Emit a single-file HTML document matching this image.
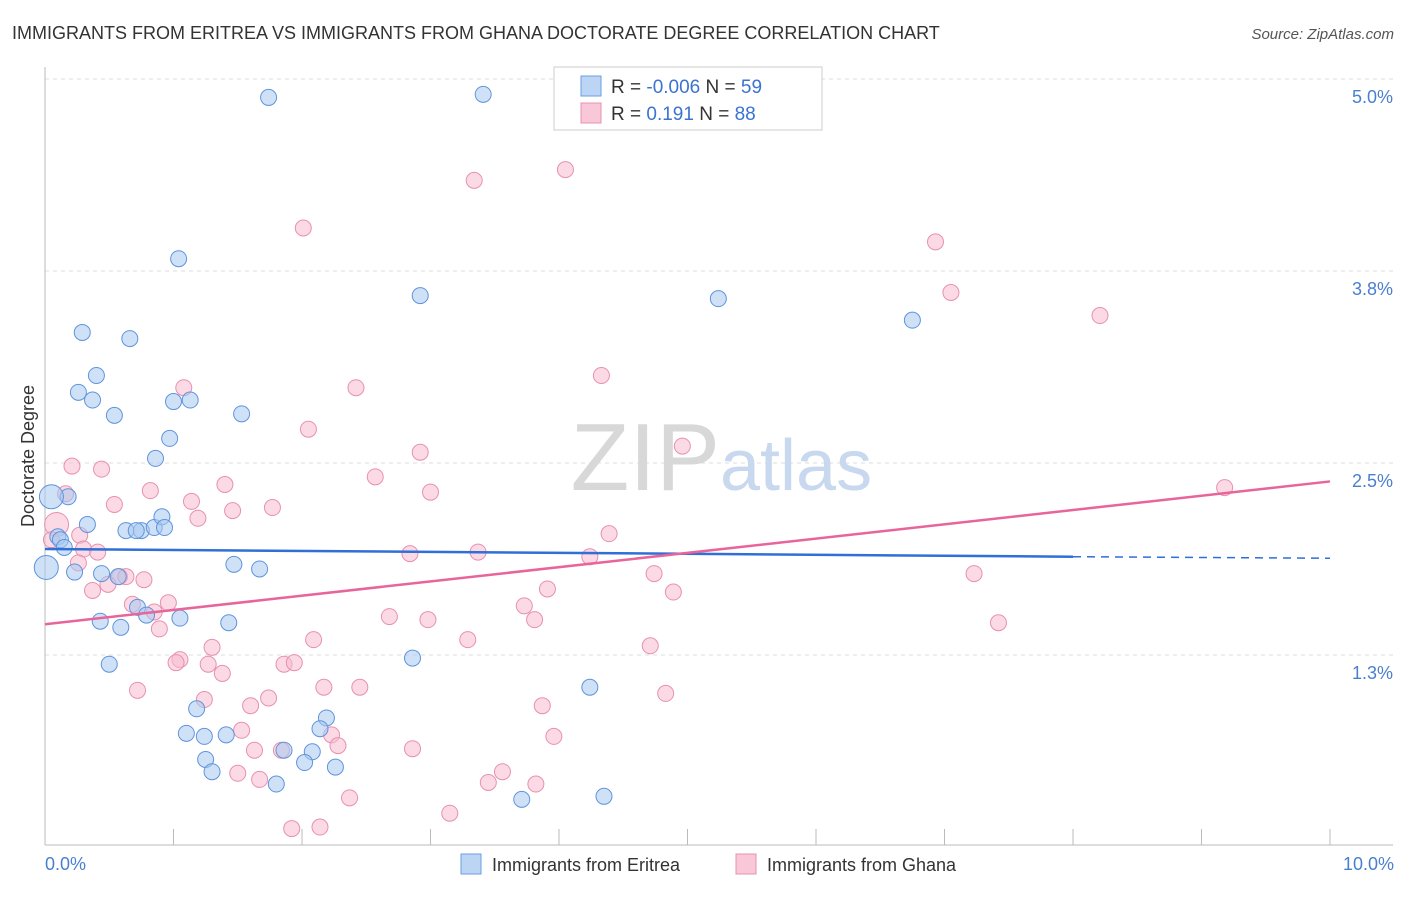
<!DOCTYPE html>
<html><head><meta charset="utf-8"><style>
body{margin:0;background:#fff;font-family:"Liberation Sans",sans-serif;}
svg text{font-family:"Liberation Sans",sans-serif;}
</style></head><body>
<svg id="chart" width="1406" height="892" xmlns="http://www.w3.org/2000/svg">
<text x="12" y="39" font-size="18" fill="#333">IMMIGRANTS FROM ERITREA VS IMMIGRANTS FROM GHANA DOCTORATE DEGREE CORRELATION CHART</text>
<text x="1394" y="39" font-size="15" fill="#555" text-anchor="end" font-style="italic">Source: ZipAtlas.com</text>
<g id="grid"></g>
<text x="720" y="490" font-size="96" fill="#d8d8d8" text-anchor="end" font-family="Liberation Serif">ZIP</text>
<text x="720" y="490" font-size="72" fill="#c8d8ee">atlas</text>
<g id="pts"></g>
<g id="lines"></g>
<text transform="translate(34,456) rotate(-90)" font-size="18" fill="#333" text-anchor="middle">Doctorate Degree</text>
<text x="45" y="870" font-size="18" fill="#4a7fd0">0.0%</text>
<text x="1394" y="870" font-size="18" fill="#4a7fd0" text-anchor="end">10.0%</text>
<g>
<rect x="554" y="67" width="268" height="63" fill="#fff" stroke="#ccc"/>
<rect x="581" y="76" width="20" height="20" fill="#bcd5f5" stroke="#6a9ee0"/>
<rect x="581" y="103" width="20" height="20" fill="#f9c8d8" stroke="#e890b0"/>
<text x="611" y="93" font-size="19" fill="#333">R = <tspan fill="#3b73d0">-0.006</tspan>   N = <tspan fill="#3b73d0">59</tspan></text>
<text x="611" y="120" font-size="19" fill="#333">R =    <tspan fill="#3b73d0">0.191</tspan>   N = <tspan fill="#3b73d0">88</tspan></text>
</g>
<g>
<rect x="461" y="854" width="20" height="20" fill="#bcd5f5" stroke="#6a9ee0"/>
<text x="492" y="871" font-size="18" fill="#333">Immigrants from Eritrea</text>
<rect x="736" y="854" width="20" height="20" fill="#f9c8d8" stroke="#e890b0"/>
<text x="767" y="871" font-size="18" fill="#333">Immigrants from Ghana</text>
</g>
</svg>
<script>
const yTicks=[1.25,2.5,3.75,5.0];
const yTickLabels=["1.3%","2.5%","3.8%","5.0%"];
const xTicks=[1,2,3,4,5,6,7,8,9,10];
const eritreaX=[1.74,3.41,1.04,2.92,5.24,6.75,0.29,0.66,0.40,0.26,0.37,1.00,1.13,0.54,1.53,0.97,0.86,0.18,0.05,0.33,0.63,0.75,0.71,0.85,0.91,0.93,0.10,0.12,0.15,0.01,0.23,0.44,0.57,1.47,1.67,0.72,0.79,1.05,0.43,0.59,1.43,0.50,2.86,4.24,1.18,2.19,2.14,1.10,1.24,1.41,1.86,2.08,1.25,2.02,2.26,1.30,1.80,3.71,4.35];
const eritreaY=[4.88,4.90,3.83,3.59,3.57,3.43,3.35,3.31,3.07,2.96,2.91,2.90,2.91,2.81,2.82,2.66,2.53,2.28,2.28,2.10,2.06,2.06,2.06,2.08,2.15,2.08,2.02,2.00,1.95,1.82,1.79,1.78,1.76,1.84,1.81,1.56,1.51,1.49,1.47,1.43,1.46,1.19,1.23,1.04,0.90,0.84,0.77,0.74,0.72,0.73,0.63,0.62,0.57,0.55,0.52,0.49,0.41,0.31,0.33];
const ghanaX=[4.05,3.34,2.01,6.93,7.05,8.21,4.33,1.08,2.42,2.05,4.96,2.92,0.21,0.44,2.57,1.40,0.16,0.82,3.00,1.14,0.54,1.46,1.77,1.19,0.09,4.39,0.27,0.05,0.30,0.41,2.84,3.37,4.24,0.26,9.18,7.23,4.74,0.58,0.63,0.77,0.49,0.37,3.91,4.89,0.68,0.96,0.85,3.73,2.68,2.98,3.81,7.42,0.89,2.09,3.29,4.71,1.30,1.05,1.02,1.27,1.86,1.94,1.38,0.72,2.17,2.45,4.83,1.24,1.74,1.60,3.87,1.53,2.23,3.96,2.28,1.63,1.84,2.86,3.56,1.50,3.45,1.67,3.82,2.37,3.15,1.92,2.14];
const ghanaY=[4.41,4.34,4.03,3.94,3.61,3.46,3.07,2.99,2.99,2.72,2.61,2.57,2.48,2.46,2.41,2.36,2.30,2.32,2.31,2.25,2.23,2.19,2.21,2.14,2.10,2.04,2.03,2.00,1.94,1.92,1.91,1.92,1.89,1.85,2.34,1.78,1.78,1.76,1.76,1.74,1.71,1.67,1.68,1.66,1.58,1.59,1.53,1.57,1.50,1.48,1.48,1.46,1.42,1.35,1.35,1.31,1.30,1.22,1.20,1.19,1.19,1.20,1.13,1.02,1.04,1.04,1.00,0.96,0.97,0.92,0.92,0.76,0.73,0.72,0.66,0.63,0.63,0.64,0.49,0.48,0.42,0.44,0.41,0.32,0.22,0.12,0.13];
const eritreaBig=[18,29];
const ghanaBig=[24];
const eritreaTrend=[1.94,1.89,1.88];
const ghanaTrend=[1.45,2.38];
const NS="http://www.w3.org/2000/svg";
function sx(v){return 45+v*128.5;}
function sy(v){return 847-v*153.6;}
function mk(tag,attrs,parent){const e=document.createElementNS(NS,tag);for(const k in attrs)e.setAttribute(k,attrs[k]);parent.appendChild(e);return e;}
const grid=document.getElementById('grid');
yTicks.forEach((t,i)=>{
 const l=mk('line',{x1:45,x2:1393,y1:sy(t),y2:sy(t),stroke:'#ddd','stroke-dasharray':'4,4'},grid);
 
 
 const tx=mk('text',{x:1393,y:sy(t)+24,'font-size':18,fill:'#4a7fd0','text-anchor':'end'},grid);
 tx.textContent=yTickLabels[i];
 
 
});
const ax=mk('line',{x1:45,x2:45,y1:67,y2:845,stroke:'#bbb'},grid);


const bx=mk('line',{x1:45,x2:1393,y1:845,y2:845,stroke:'#bbb'},grid);


xTicks.forEach(t=>{
 const l=mk('line',{x1:sx(t),x2:sx(t),y1:829,y2:845,stroke:'#bbb'},grid);
 
 
});
const pts=document.getElementById('pts');
function drawSeries(X,Y,big,fill,stroke,name){
 X.forEach((x,i)=>{
  const c=mk('circle',{cx:sx(x),cy:sy(Y[i]),r:big.includes(i)?12:8,fill:fill,'fill-opacity':0.55,stroke:stroke,'stroke-width':1},pts);
  
  
 });
}
drawSeries(ghanaX,ghanaY,ghanaBig,'#f7bcd0','#e890b0','ghana-point');
drawSeries(eritreaX,eritreaY,eritreaBig,'#a8c8f0','#5f94dc','eritrea-point');
const lines=document.getElementById('lines');
const b1=mk('line',{x1:sx(0),y1:sy(eritreaTrend[0]),x2:sx(8),y2:sy(eritreaTrend[1]),stroke:'#2f6fd6','stroke-width':2.5},lines);


const b2=mk('line',{x1:sx(8),y1:sy(eritreaTrend[1]),x2:sx(10),y2:sy(eritreaTrend[2]),stroke:'#2f6fd6','stroke-width':1.5,'stroke-dasharray':'8,6'},lines);


const p1=mk('line',{x1:sx(0),y1:sy(ghanaTrend[0]),x2:sx(10),y2:sy(ghanaTrend[1]),stroke:'#e8649a','stroke-width':2.5},lines);


</script>
</body></html>
